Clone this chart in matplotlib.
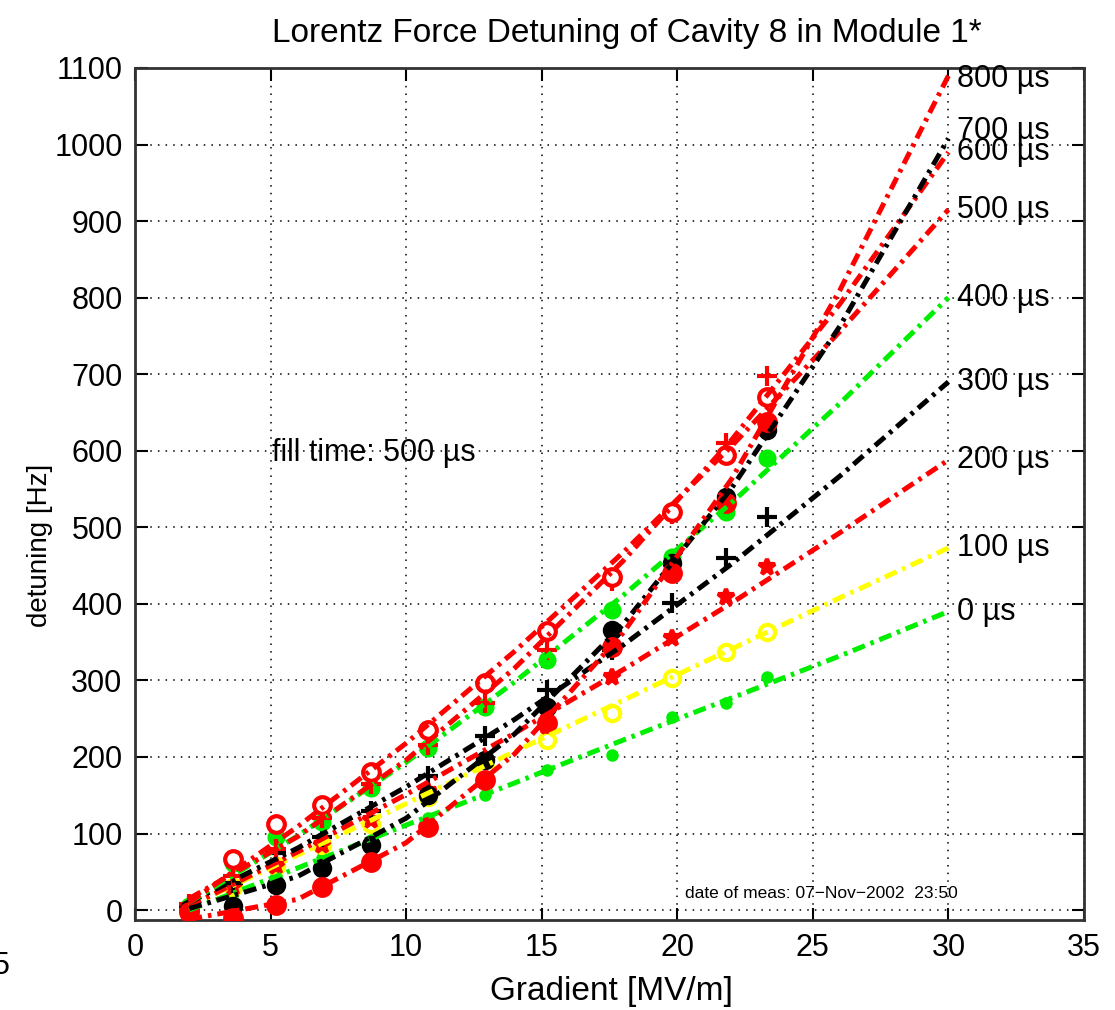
import numpy as np
import matplotlib.pyplot as plt

plt.rcParams['font.family'] = ['Liberation Sans Narrow', 'Liberation Sans', 'DejaVu Sans']

# measured gradients [MV/m]
grad = [2.0, 3.6, 5.2, 6.9, 8.7, 10.8, 12.9, 15.2, 17.6, 19.8, 21.8, 23.3]

# measured detuning [Hz] at each time after start of flat top
det_0 = [0, 22, 45, 68, 92, 120, 150, 183, 203, 252, 270, 305]
det_100 = [2, 30, 57, 85, 112, 148, 185, 222, 257, 303, 337, 363]
det_200 = [3, 30, 58, 85, 118, 155, 195, 240, 305, 355, 409, 448]
det_300 = [5, 35, 75, 95, 130, 175, 228, 288, 340, 401, 460, 514]
det_400 = [5, 62, 95, 115, 159, 212, 265, 327, 392, 461, 520, 591]
det_500 = [8, 45, 80, 120, 165, 215, 270, 340, 430, 518, 610, 697]
det_600 = [0, 67, 112, 137, 180, 235, 297, 365, 435, 520, 595, 670]
det_700 = [2, 5, 33, 55, 85, 150, 196, 265, 366, 453, 540, 627]
det_800 = [-2, -10, 7, 30, 63, 108, 170, 244, 344, 440, 532, 637]

# fitted curves, read at these gradients
fit_grad = [2, 6, 10, 14, 18, 22, 26, 30]
fit_0 = [0, 55, 111, 166, 222, 277, 332, 390]
fit_100 = [5, 72, 139, 207, 274, 341, 408, 473]
fit_200 = [5, 76, 151, 231, 314, 401, 493, 588]
fit_300 = [10, 81, 161, 249, 346, 452, 567, 690]
fit_400 = [10, 97, 193, 298, 411, 532, 662, 800]
fit_500 = [10, 109, 218, 338, 467, 606, 756, 915]
fit_600 = [15, 96, 196, 316, 456, 614, 792, 990]
fit_700 = [2, 44, 120, 230, 373, 551, 763, 1008]
fit_800 = [-12, 14, 88, 204, 362, 563, 810, 1090]

times = ['0', '100', '200', '300', '400', '500', '600', '700', '800']
meas = [det_0, det_100, det_200, det_300, det_400, det_500, det_600, det_700, det_800]
fits = [fit_0, fit_100, fit_200, fit_300, fit_400, fit_500, fit_600, fit_700, fit_800]

G, Y, R, K = '#00ee00', '#ffff00', '#ff0000', '#000000'
# colour, marker, markersize, filled
styles = [
    (G, 'o', 6, True),
    (Y, 'o', 11, False),
    (R, '*', 12, True),
    (K, '+', 14, True),
    (G, 'o', 10, True),
    (R, '+', 14, True),
    (R, 'o', 12, False),
    (K, 'o', 11, True),
    (R, 'o', 12, True),
]
label_nudge = {'700': 10, '800': -5}

fig = plt.figure(figsize=(11.15, 10.1), dpi=100)
ax = fig.add_axes([0.1211, 0.0891, 0.8511, 0.8436])

dashdot = (0, (2.6, 1.2, 0.7, 1.2))
for t, d, f, (c, m, ms, filled) in zip(times, meas, fits, styles):
    ax.plot(grad, d, linestyle='none', marker=m, markersize=ms,
            color=c, markerfacecolor=c if filled else 'white',
            markeredgewidth=3, zorder=3)
    ax.plot(fit_grad, f, color=c, linewidth=3.6, linestyle=dashdot, zorder=4)
    ax.text(30.3, f[-1] + label_nudge.get(t, 0), t + ' \u00b5s', fontsize=22,
            va='center', ha='left', zorder=5)

ax.set_xlim(0, 35)
ax.set_ylim(-13, 1100)
ax.set_xticks(np.arange(0, 36, 5))
ax.set_yticks(np.arange(0, 1101, 100))
ax.grid(True, color='k', linestyle=(0, (1, 4)), linewidth=1.1)
ax.tick_params(direction='in', length=9, width=1.5, top=True, right=True,
               labelsize=22, pad=9)
for s in ax.spines.values():
    s.set_linewidth(2)
    s.set_color('0.2')

ax.text(5.05, 597, 'fill time: 500 \u00b5s', fontsize=22, va='center')
ax.text(20.3, 22, 'date of meas: 07\u2212Nov\u22122002  23:50', fontsize=12.5,
        va='center')

fig.text(0.5625, 0.967, 'Lorentz Force Detuning of Cavity 8 in Module 1*',
         fontsize=24, ha='center', va='center')
fig.text(0.548, 0.018, 'Gradient [MV/m]', fontsize=24, ha='center', va='center')
fig.text(0.036, 0.46, 'detuning [Hz]', fontsize=20, ha='center', va='center',
         rotation=90)
fig.text(-0.006, 0.044, '5', fontsize=22, ha='left', va='center')

fig.savefig('out.png', dpi=100)
